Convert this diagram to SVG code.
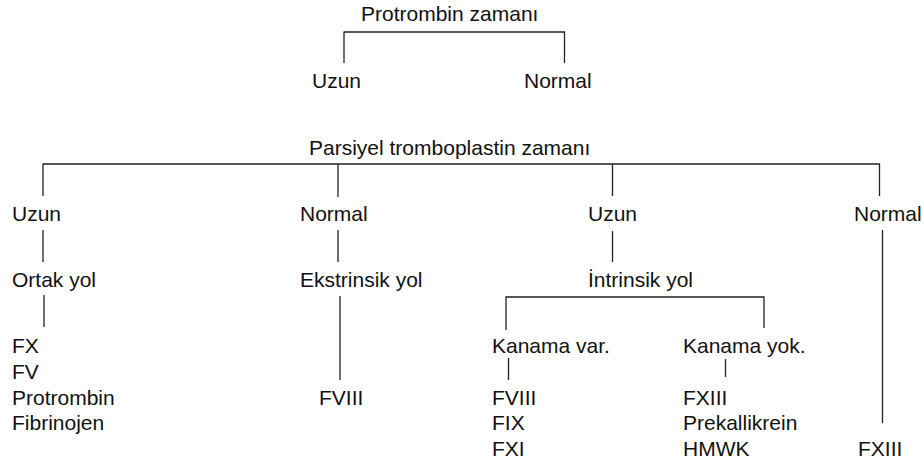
<svg xmlns="http://www.w3.org/2000/svg" width="924" height="462" viewBox="0 0 924 462">
<style>
text{font-family:"Liberation Sans",Arial,sans-serif;font-size:21px;fill:#111}
.c line{stroke:#222;stroke-width:1.3;fill:none}
</style>
<rect width="924" height="462" fill="#fff"/>
<g class="c" id="connectors">
<line x1="344" y1="32" x2="564.5" y2="32"/>
<line x1="344" y1="31.4" x2="344" y2="63"/>
<line x1="564.5" y1="31.4" x2="564.5" y2="63"/>
<line x1="43" y1="164" x2="879.5" y2="164"/>
<line x1="43" y1="163.4" x2="43" y2="196"/>
<line x1="338" y1="164" x2="338" y2="197"/>
<line x1="612.5" y1="164" x2="612.5" y2="196"/>
<line x1="879.5" y1="163.4" x2="879.5" y2="196"/>
<line x1="43" y1="230" x2="43" y2="262"/>
<line x1="338" y1="230" x2="338" y2="262"/>
<line x1="612.5" y1="231" x2="612.5" y2="262"/>
<line x1="882.5" y1="230" x2="882.5" y2="423"/>
<line x1="44" y1="295" x2="44" y2="327"/>
<line x1="340" y1="296" x2="340" y2="380"/>
<line x1="506" y1="297" x2="764" y2="297"/>
<line x1="506" y1="296.4" x2="506" y2="330"/>
<line x1="764" y1="296.4" x2="764" y2="328"/>
<line x1="508.5" y1="358" x2="508.5" y2="380"/>
<line x1="725.5" y1="359" x2="725.5" y2="377"/>
</g>
<g id="pt"><text x="361" y="21">Protrombin zamanı</text></g>
<g id="pt-uzun"><text x="312" y="88">Uzun</text></g>
<g id="pt-normal"><text x="524" y="88">Normal</text></g>
<g id="ptt"><text x="309" y="155">Parsiyel tromboplastin zamanı</text></g>
<g id="ptt-uzun1"><text x="12" y="221">Uzun</text></g>
<g id="ptt-normal1"><text x="300" y="221">Normal</text></g>
<g id="ptt-uzun2"><text x="588" y="221">Uzun</text></g>
<g id="ptt-normal2"><text x="854" y="221">Normal</text></g>
<g id="ortak"><text x="12" y="287">Ortak yol</text></g>
<g id="ekstrinsik"><text x="300" y="287">Ekstrinsik yol</text></g>
<g id="intrinsik"><text x="588" y="287">İntrinsik yol</text></g>
<g id="ortak-list"><text x="12" y="353">FX</text><text x="12" y="379">FV</text><text x="12" y="405">Protrombin</text><text x="12" y="430">Fibrinojen</text></g>
<g id="ekstrinsik-list"><text x="319" y="405">FVIII</text></g>
<g id="kanama-var"><text x="492" y="353">Kanama var.</text></g>
<g id="kanama-yok"><text x="683" y="353">Kanama yok.</text></g>
<g id="var-list"><text x="492" y="405">FVIII</text><text x="492" y="430">FIX</text><text x="492" y="456">FXI</text></g>
<g id="yok-list"><text x="683" y="405">FXIII</text><text x="683" y="430">Prekallikrein</text><text x="683" y="456">HMWK</text></g>
<g id="normal-list"><text x="858" y="456">FXIII</text></g>
</svg>
